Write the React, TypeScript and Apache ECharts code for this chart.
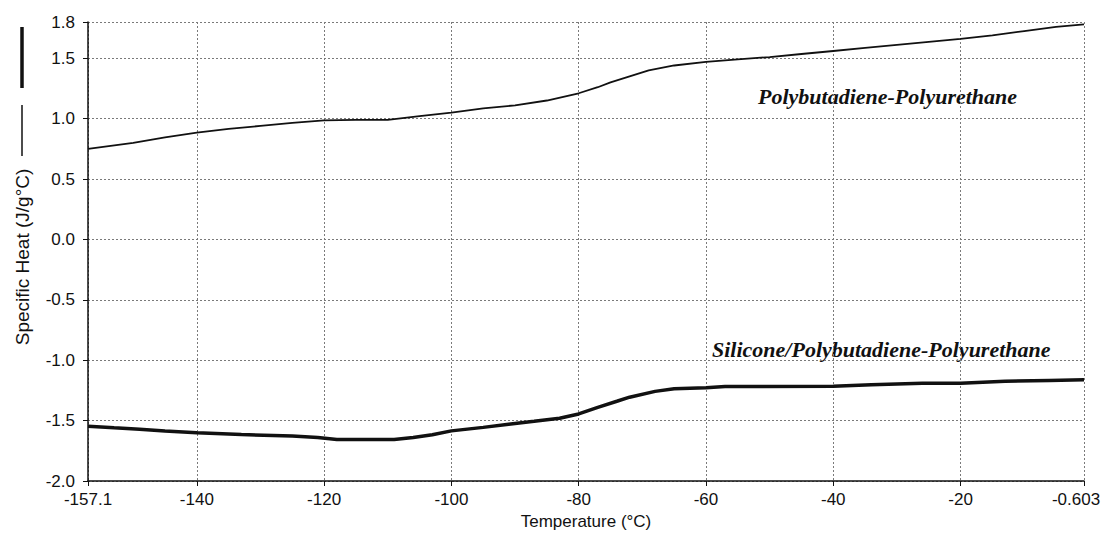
import { useEffect, useRef } from 'react';
import * as echarts from 'echarts';

// Polybutadiene-Polyurethane (thin trace)
const pbPuTemps = [-157.1, -150, -145, -140, -135, -130, -125, -120, -115, -110, -105, -100, -95, -90, -85, -80, -77, -75, -72, -69, -65, -60, -55, -50, -45, -40, -35, -30, -25, -20, -15, -10, -5, -0.603];
const pbPuHeat = [0.75, 0.8, 0.845, 0.884, 0.915, 0.94, 0.965, 0.985, 0.99, 0.99, 1.02, 1.05, 1.085, 1.11, 1.15, 1.21, 1.26, 1.3, 1.35, 1.4, 1.44, 1.47, 1.49, 1.51, 1.535, 1.56, 1.585, 1.61, 1.635, 1.66, 1.69, 1.725, 1.76, 1.78];

// Silicone/Polybutadiene-Polyurethane (thick trace)
const siPbPuTemps = [-157.1, -153, -149, -145, -140, -133, -125, -121, -118, -109, -106, -103, -100, -95, -91, -87, -83, -80, -77, -74, -72, -68, -65, -60, -57, -40, -34, -26, -20, -13, -6, -0.603];
const siPbPuHeat = [-1.547, -1.56, -1.572, -1.586, -1.6, -1.615, -1.628, -1.64, -1.656, -1.656, -1.64, -1.617, -1.585, -1.556, -1.53, -1.506, -1.48, -1.445, -1.39, -1.34, -1.306, -1.258, -1.236, -1.228, -1.218, -1.216, -1.203, -1.19, -1.19, -1.175, -1.167, -1.161];

const xTickValues = [-157.1, -140, -120, -100, -80, -60, -40, -20, -0.603];
const yTickValues = [-2, -1.5, -1, -0.5, 0, 0.5, 1, 1.5, 1.8];

const xName = 'Temperature (°C)';
const yName = 'Specific Heat (J/g°C)';
const pbPuLabel = 'Polybutadiene-Polyurethane';
const siPbPuLabel = 'Silicone/Polybutadiene-Polyurethane';

const zip = (xs: number[], ys: number[]) => xs.map((x, i) => [x, ys[i]]);

const SANS = '"Liberation Sans", Arial, sans-serif';
const SERIF = '"Liberation Serif", "Times New Roman", serif';
const GRID_LINE = { color: '#7a7a7a', width: 1, type: [2, 2] as number[] };

export default function App() {
  const ref = useRef<HTMLDivElement>(null);

  useEffect(() => {
    if (!ref.current) return;
    const chart = echarts.init(ref.current, null, { renderer: 'svg' });
    const xMin = xTickValues[0];
    const xMax = xTickValues[xTickValues.length - 1];
    const yMin = yTickValues[0];
    const yMax = yTickValues[yTickValues.length - 1];

    chart.setOption({
      animation: false,
      backgroundColor: '#ffffff',
      grid: { left: 88, right: 20, top: 22, bottom: 55, outerBoundsMode: 'none' },
      xAxis: {
        type: 'value',
        min: xMin,
        max: xMax,
        name: xName,
        nameLocation: 'middle',
        nameGap: 32,
        nameTextStyle: { color: '#111', fontFamily: SANS, fontSize: 17 },
        axisLine: { show: true, onZero: false, lineStyle: { color: '#111', width: 1.5 } },
        axisTick: { show: true, length: 5, customValues: xTickValues, lineStyle: { color: '#111' } },
        axisLabel: {
          customValues: xTickValues,
          margin: 10,
          color: '#111',
          fontFamily: SANS,
          fontSize: 17,
          formatter: (v: number) => (v === xMax ? `{last|${v}}` : String(v)),
          rich: { last: { padding: [0, 16, 0, 0], fontFamily: SANS, fontSize: 17, color: '#111' } },
        },
        splitLine: { show: true, lineStyle: GRID_LINE },
      },
      yAxis: {
        type: 'value',
        min: yMin,
        max: yMax,
        axisLine: { show: true, onZero: false, lineStyle: { color: '#111', width: 1.5 } },
        axisTick: { show: true, length: 5, customValues: yTickValues, lineStyle: { color: '#111' } },
        axisLabel: {
          customValues: yTickValues,
          margin: 13,
          color: '#111',
          fontFamily: SANS,
          fontSize: 17,
          formatter: (v: number) => v.toFixed(1),
        },
        splitLine: { show: true, lineStyle: GRID_LINE },
      },
      series: [
        {
          name: pbPuLabel,
          type: 'line',
          data: zip(pbPuTemps, pbPuHeat),
          showSymbol: false,
          silent: true,
          lineStyle: { color: '#111', width: 1.8 },
        },
        {
          name: siPbPuLabel,
          type: 'line',
          data: zip(siPbPuTemps, siPbPuHeat),
          showSymbol: false,
          silent: true,
          lineStyle: { color: '#111', width: 3.5 },
        },
      ],
      graphic: [
        // y-axis title with its line-weight key
        {
          type: 'text',
          x: 22,
          y: 257,
          rotation: Math.PI / 2,
          style: {
            text: yName,
            fill: '#111',
            font: `19px ${SANS}`,
            align: 'center',
            verticalAlign: 'middle',
          },
        },
        {
          type: 'line',
          shape: { x1: 22, y1: 105, x2: 22, y2: 156 },
          style: { stroke: '#111', lineWidth: 1.5 },
        },
        {
          type: 'line',
          shape: { x1: 22, y1: 27, x2: 22, y2: 88 },
          style: { stroke: '#111', lineWidth: 3.5 },
        },
        // curve annotations
        {
          type: 'text',
          x: 758,
          y: 96,
          style: {
            text: pbPuLabel,
            fill: '#111',
            font: `italic bold 22px ${SERIF}`,
            align: 'left',
            verticalAlign: 'middle',
          },
        },
        {
          type: 'text',
          x: 712,
          y: 349,
          style: {
            text: siPbPuLabel,
            fill: '#111',
            font: `italic bold 22px ${SERIF}`,
            align: 'left',
            verticalAlign: 'middle',
          },
        },
      ],
    });

    return () => chart.dispose();
  }, []);

  return (
    <div
      ref={ref}
      style={{ position: 'fixed', left: 0, top: 0, width: 1104, height: 536, background: '#fff' }}
    />
  );
}
